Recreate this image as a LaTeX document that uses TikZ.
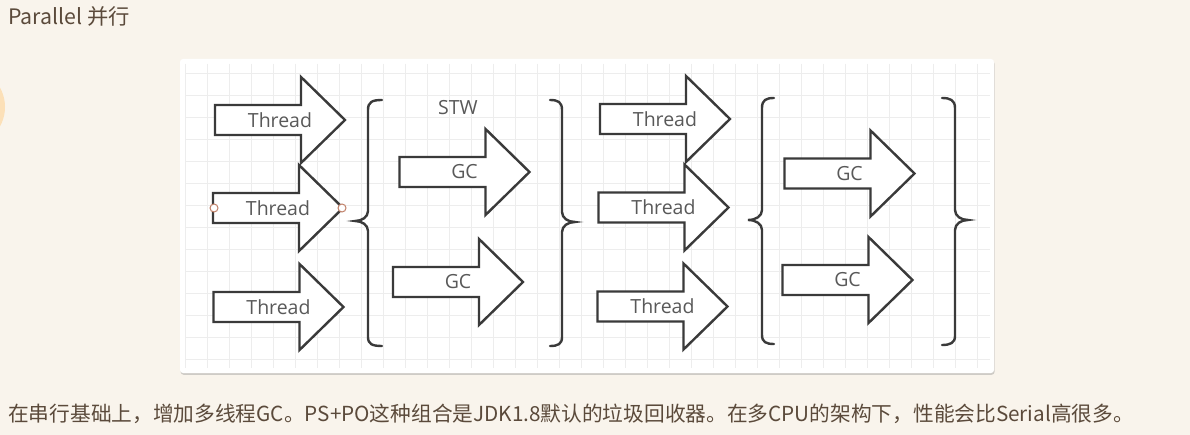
\documentclass[tikz,border=0pt]{standalone}
\usepackage{fontspec}
\setmainfont{Open Sans}
\newfontfamily\cjkfont{Noto Sans CJK SC}
\usetikzlibrary{shadows}
\definecolor{page}{HTML}{F9F4EC}
\definecolor{ink}{HTML}{3A3A3A}
\definecolor{label}{HTML}{595959}
\definecolor{gridln}{HTML}{EDEDED}
\definecolor{prose}{HTML}{5B4A3B}
\definecolor{marker}{HTML}{C08068}
\definecolor{badge}{HTML}{FCE0B8}

\tikzset{
  pics/fatarrow/.style={code={
      \draw[arrowbody] (-65,-15) -- (21,-15) -- (21,-43) -- (65,0)
      -- (21,43) -- (21,15) -- (-65,15) -- cycle;
      \node[arrowtext] (-txt) at (0,0) {#1};
    }},
}

\begin{document}
\begin{tikzpicture}[
    x=1pt, y=-1pt,
    arrowbody/.style={draw=ink, fill=white, line width=2.4pt, line join=miter},
    arrowtext/.style={font=\fontsize{19.5}{22}\selectfont, text=label, inner sep=0pt},
    brace/.style={draw=ink, line width=2.4pt, line cap=round},
    gridline/.style={draw=gridln, line width=0.8pt},
    card/.style={fill=white, rounded corners=3pt,
      drop shadow={opacity=0.35, shadow xshift=0.6pt, shadow yshift=-1.8pt}},
    pin/.style={circle, draw=marker, fill=white, line width=1pt,
      minimum size=8pt, inner sep=0pt},
    prosetext/.style={font=\cjkfont\fontsize{20.7}{24}\selectfont, text=prose,
      anchor=west, inner sep=0pt},
  ]
  \useasboundingbox (0,0) rectangle (1190,435);
  \fill[page] (0,0) rectangle (1190,435);
  \fill[badge] (-35,107) circle (40);

  \node[prosetext, font=\cjkfont\fontsize{21.3}{24}\selectfont] (title) at (8,16) {Parallel 并行};

  % white sheet with grid
  \path[card] (180,59) rectangle (994,373);
  \foreach \gx in {0,...,36}
  \draw[gridline] ({185+22*\gx},64) -- ({185+22*\gx},368);
  \foreach \gy in {0,...,13}
  \draw[gridline] (185,{73+22*\gy}) -- (990,{73+22*\gy});

  % first run: threads, then STW with GC
  \pic (thA) at (280,120) {fatarrow=Thread};
  \pic (thB) at (278,208) {fatarrow=Thread};
  \pic (thC) at (278.5,307) {fatarrow=Thread};
  \node[pin] (pinL) at (214,208) {};
  \node[pin] (pinR) at (342,208) {};

  \draw[brace] (382,100) .. controls (372,100) and (368,102) .. (368,110)
  -- (368,211) .. controls (368,217) and (362,221) .. (355,221)
  .. controls (362,221) and (368,225) .. (368,231)
  -- (368,337) .. controls (368,344) and (372,346) .. (382,346);
  \node[arrowtext] (stw) at (458,108) {STW};
  \pic (gcA) at (464.5,172) {fatarrow=GC};
  \pic (gcB) at (458,282) {fatarrow=GC};
  \draw[brace] (550,100) .. controls (558,100) and (562,102) .. (562,110)
  -- (562,212) .. controls (562,218) and (568,222) .. (575,222)
  .. controls (568,222) and (562,226) .. (562,232)
  -- (562,337) .. controls (562,344) and (558,346) .. (550,346);

  % second run
  \pic (thD) at (665,119) {fatarrow=Thread};
  \pic (thE) at (663.5,207.5) {fatarrow=Thread};
  \pic (thF) at (662.5,306.5) {fatarrow=Thread};

  \draw[brace] (774,98) .. controls (766,98) and (762,100) .. (762,108)
  -- (762,210) .. controls (762,216) and (756,220) .. (748,220)
  .. controls (756,220) and (762,224) .. (762,230)
  -- (762,335) .. controls (762,342) and (766,344) .. (774,344);
  \pic (gcC) at (849.5,173.5) {fatarrow=GC};
  \pic (gcD) at (847.5,280) {fatarrow=GC};
  \draw[brace] (942,98) .. controls (950,98) and (955,100) .. (955,108)
  -- (955,210) .. controls (955,216) and (961,220) .. (968,220)
  .. controls (961,220) and (955,224) .. (955,230)
  -- (955,336) .. controls (955,343) and (950,345) .. (942,345);

  \node[prosetext] (note) at (8,414)
  {在串行基础上，增加多线程GC。PS+PO这种组合是JDK1.8默认的垃圾回收器。在多CPU的架构下，性能会比Serial高很多。};
\end{tikzpicture}
\end{document}
